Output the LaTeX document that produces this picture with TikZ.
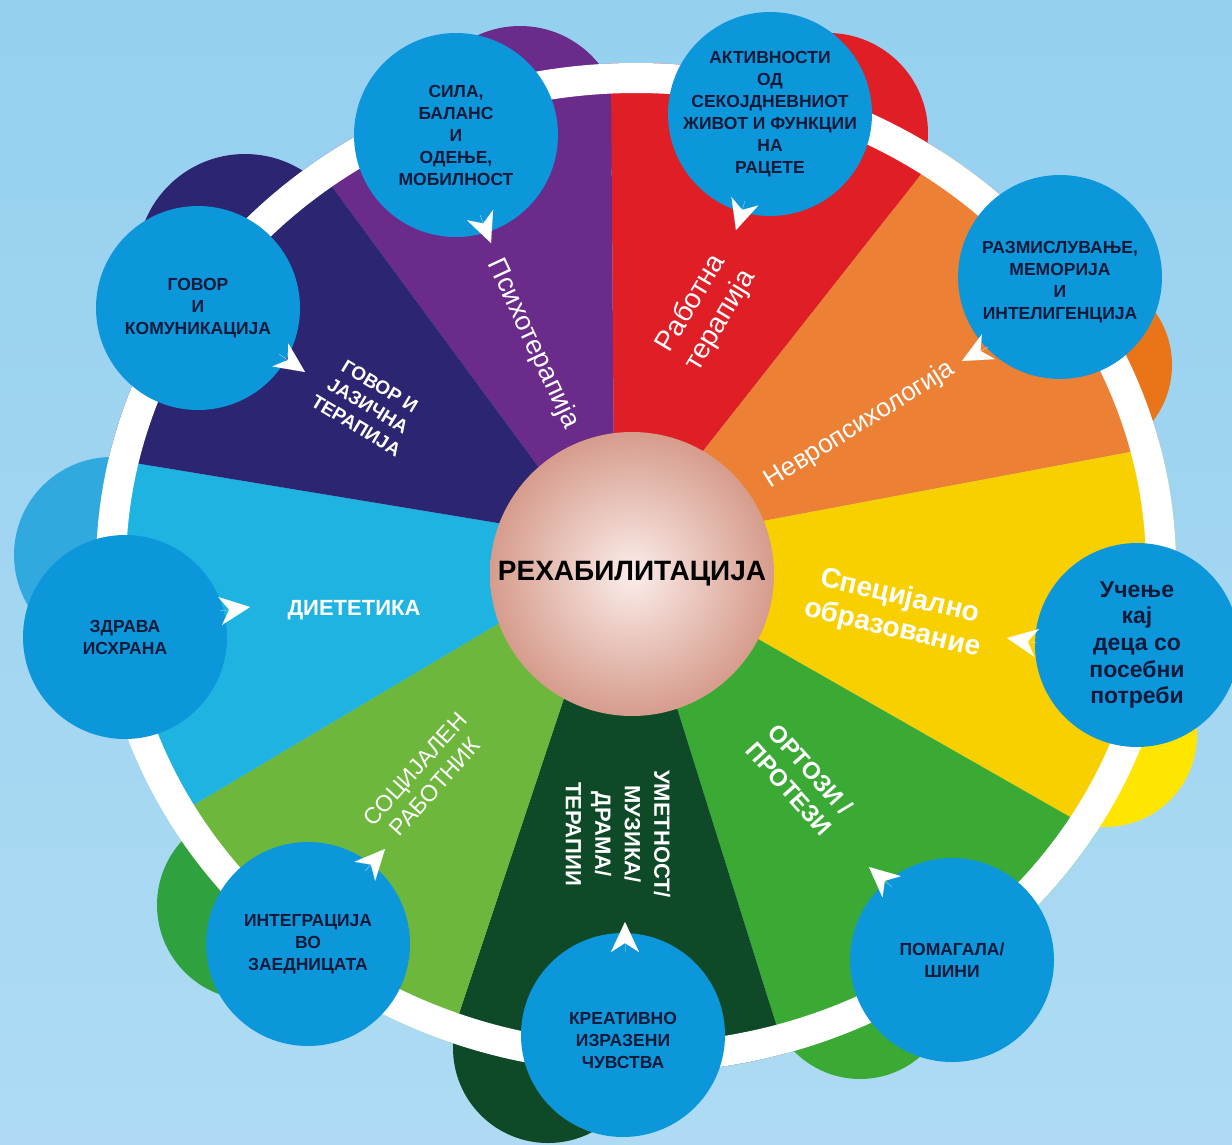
\documentclass[tikz,border=0pt]{standalone}
\usepackage{fontspec}
\setmainfont{Liberation Sans}
\usetikzlibrary{arrows.meta}

\definecolor{bgtop}{HTML}{95D0EF}
\definecolor{bgbot}{HTML}{AEDBF3}
\definecolor{cNavy}{HTML}{2B2572}
\definecolor{cPurple}{HTML}{6A2B8B}
\definecolor{cRed}{HTML}{E01E25}
\definecolor{cOrange}{HTML}{EC8035}
\definecolor{cOrangeB}{HTML}{EA7518}
\definecolor{cYellow}{HTML}{F8D000}
\definecolor{cYellowB}{HTML}{FFE600}
\definecolor{cGreen}{HTML}{3AAA35}
\definecolor{cDkGreen}{HTML}{0E4A27}
\definecolor{cLtGreen}{HTML}{6DB73C}
\definecolor{cLtGreenB}{HTML}{2FA23F}
\definecolor{cCyan}{HTML}{1EB3E1}
\definecolor{cCyanB}{HTML}{32A9DE}
\definecolor{cBlue}{HTML}{0C97DB}
\definecolor{cInk}{HTML}{121A3A}
\definecolor{hubIn}{HTML}{FBEDEA}
\definecolor{hubOut}{HTML}{D69C8C}

\tikzset{
  topic/.style={circle, fill=cBlue, minimum size=204pt, inner sep=0pt},
  topictext/.style={align=center, text=cInk, inner sep=0pt,
    font=\bfseries\fontsize{17.5}{22}\selectfont},
  hub/.style={circle, minimum size=284pt, inner sep=0pt,
    inner color=hubIn, outer color=hubOut,
    font=\bfseries\fontsize{28}{32}\selectfont},
  lbl/.style={text=white, align=center, inner sep=0pt},
  arrowhd/.style={draw=white, fill=white, line width=0.01pt,
    -{Stealth[length=30pt,width=28pt,inset=9pt]}}
}

\begin{document}
\begin{tikzpicture}[x=1pt,y=-1pt]
\useasboundingbox (0,0) rectangle (1232,1144);
\fill[top color=bgtop, bottom color=bgbot] (0,0) rectangle (1232,1144);

% coloured bumps behind the ring
\fill[cNavy]     (245,262)  circle [radius=108];
\fill[cPurple]   (520,127)  circle [radius=101];
\fill[cRed]      (828,133)  circle [radius=100];
\fill[cOrangeB]  (1080,365) circle [radius=92];
\fill[cYellowB]  (1105,735) circle [radius=92];
\fill[cGreen]    (860,987)  circle [radius=92];
\fill[cDkGreen]  (548,1048) circle [radius=95];
\fill[cLtGreenB] (252,905)  circle [radius=95];
\fill[cCyanB]    (112,555)  circle [radius=98];

% sector boundaries: inner point (under the hub) and outer point (beyond the ring)
\coordinate (X)  at (632,574);
\coordinate (I1) at (551,484); \coordinate (O1) at (249,74);
\coordinate (I2) at (614,480); \coordinate (O2) at (610,-60);
\coordinate (I3) at (685,474); \coordinate (O3) at (1008,64);
\coordinate (I4) at (731,527); \coordinate (O4) at (1274,425);
\coordinate (I5) at (730,623); \coordinate (O5) at (1198,890);
\coordinate (I6) at (667,676); \coordinate (O6) at (822,1171);
\coordinate (I7) at (575,665); \coordinate (O7) at (413,1152);
\coordinate (I8) at (533,603); \coordinate (O8) at (64,882);
\coordinate (I9) at (534,529); \coordinate (O9) at (-10,439);

\begin{scope}
  \clip (636,568) ellipse [x radius=540, y radius=505];
  \fill[cPurple]  (X) -- (I1) -- (O1) -- (O2) -- (I2) -- cycle;
  \fill[cRed]     (X) -- (I2) -- (O2) -- (O3) -- (I3) -- cycle;
  \fill[cOrange]  (X) -- (I3) -- (O3) -- (O4) -- (I4) -- cycle;
  \fill[cYellow]  (X) -- (I4) -- (O4) -- (O5) -- (I5) -- cycle;
  \fill[cGreen]   (X) -- (I5) -- (O5) -- (O6) -- (I6) -- cycle;
  \fill[cDkGreen] (X) -- (I6) -- (O6) -- (O7) -- (I7) -- cycle;
  \fill[cLtGreen] (X) -- (I7) -- (O7) -- (O8) -- (I8) -- cycle;
  \fill[cCyan]    (X) -- (I8) -- (O8) -- (O9) -- (I9) -- cycle;
  \fill[cNavy]    (X) -- (I9) -- (O9) -- (O1) -- (I1) -- cycle;
\end{scope}

% white ring
\fill[white, even odd rule]
  (636,568) ellipse [x radius=540, y radius=505]
  (636,568) ellipse [x radius=510, y radius=475];

% hub
\node[hub] (hub) at (632,574) {РЕХАБИЛИТАЦИЈА};

% sector labels
\node[lbl, font=\fontsize{27}{30}\selectfont, rotate=-65] (psiho) at (533,344) {Психотерапија};
\node[lbl, font=\fontsize{28}{34}\selectfont, rotate=59] (rabot) at (706,312) {Работна\\терапија};
\node[lbl, font=\fontsize{26}{30}\selectfont, rotate=32] (nevro) at (860,425) {Невропсихологија};
\node[lbl, font=\bfseries\fontsize{28}{33}\selectfont, rotate=-13] (spec) at (896,613) {Специјално\\образование};
\node[lbl, font=\bfseries\fontsize{24}{29}\selectfont, rotate=-48] (ortoz) at (800,779) {ОРТОЗИ /\\ПРОТЕЗИ};
\node[lbl, font=\bfseries\fontsize{22}{29.5}\selectfont, rotate=-90] (umet) at (618,834) {УМЕТНОСТ/\\МУЗИКА/\\ДРАМА/\\ТЕРАПИИ};
\node[lbl, font=\fontsize{23}{27}\selectfont, rotate=48] (socij) at (425,778) {СОЦИЈАЛЕН\\РАБОТНИК};
\node[lbl, font=\bfseries\fontsize{22}{26}\selectfont] (diet) at (354,610) {ДИЕТЕТИКА};
\node[lbl, font=\bfseries\fontsize{19}{23}\selectfont, rotate=-31] (govorj) at (368,406) {ГОВОР И\\ЈАЗИЧНА\\ТЕРАПИЈА};

% topic circles
\node[topic] (sila)   at (456,135)  {};
\node[topic] (aktiv)  at (770,114)  {};
\node[topic] (razm)   at (1060,277) {};
\node[topic] (ucen)   at (1137,645) {};
\node[topic] (pomag)  at (952,960)  {};
\node[topic] (kreat)  at (623,1035) {};
\node[topic] (integ)  at (308,944)  {};
\node[topic] (zdrav)  at (125,637)  {};
\node[topic] (govor)  at (198,308)  {};

\node[topictext] (silaT)  at (sila)  {СИЛА,\\БАЛАНС\\И\\ОДЕЊЕ,\\МОБИЛНОСТ};
\node[topictext] (aktivT) at (aktiv) {АКТИВНОСТИ\\ОД\\СЕКОЈДНЕВНИОТ\\ЖИВОТ И ФУНКЦИИ\\НА\\РАЦЕТЕ};
\node[topictext] (razmT)  at ([yshift=-5]razm) {РАЗМИСЛУВАЊЕ,\\МЕМОРИЈА\\И\\ИНТЕЛИГЕНЦИЈА};
\node[topictext, font=\bfseries\fontsize{23}{26.7}\selectfont] (ucenT) at (ucen) {Учење\\кај\\деца со\\посебни\\потреби};
\node[topictext] (pomagT) at (pomag) {ПОМАГАЛА/\\ШИНИ};
\node[topictext] (kreatT) at ([yshift=-5]kreat) {КРЕАТИВНО\\ИЗРАЗЕНИ\\ЧУВСТВА};
\node[topictext] (integT) at (integ) {ИНТЕГРАЦИЈА\\ВО\\ЗАЕДНИЦАТА};
\node[topictext] (zdravT) at (zdrav) {ЗДРАВА\\ИСХРАНА};
\node[topictext] (govorT) at (govor) {ГОВОР\\И\\КОМУНИКАЦИЈА};

% arrowheads from each topic circle towards its sector label
\coordinate (a1) at (480,215);  \coordinate (h1) at (491,243);
\coordinate (a2) at (745,201);  \coordinate (h2) at (736,230);
\coordinate (a3) at (988,347);  \coordinate (h3) at (962,361);
\coordinate (a4) at (1037,643); \coordinate (h4) at (1007,638);
\coordinate (a5) at (892,887);  \coordinate (h5) at (869,867);
\coordinate (a6) at (625,952);  \coordinate (h6) at (625,922);
\coordinate (a7) at (365,871);  \coordinate (h7) at (385,849);
\coordinate (a8) at (220,611);  \coordinate (h8) at (250,607);
\coordinate (a9) at (279,354);  \coordinate (h9) at (305,372);
\foreach \i in {1,...,9} { \draw[arrowhd] (a\i) -- (h\i); }
\end{tikzpicture}
\end{document}
